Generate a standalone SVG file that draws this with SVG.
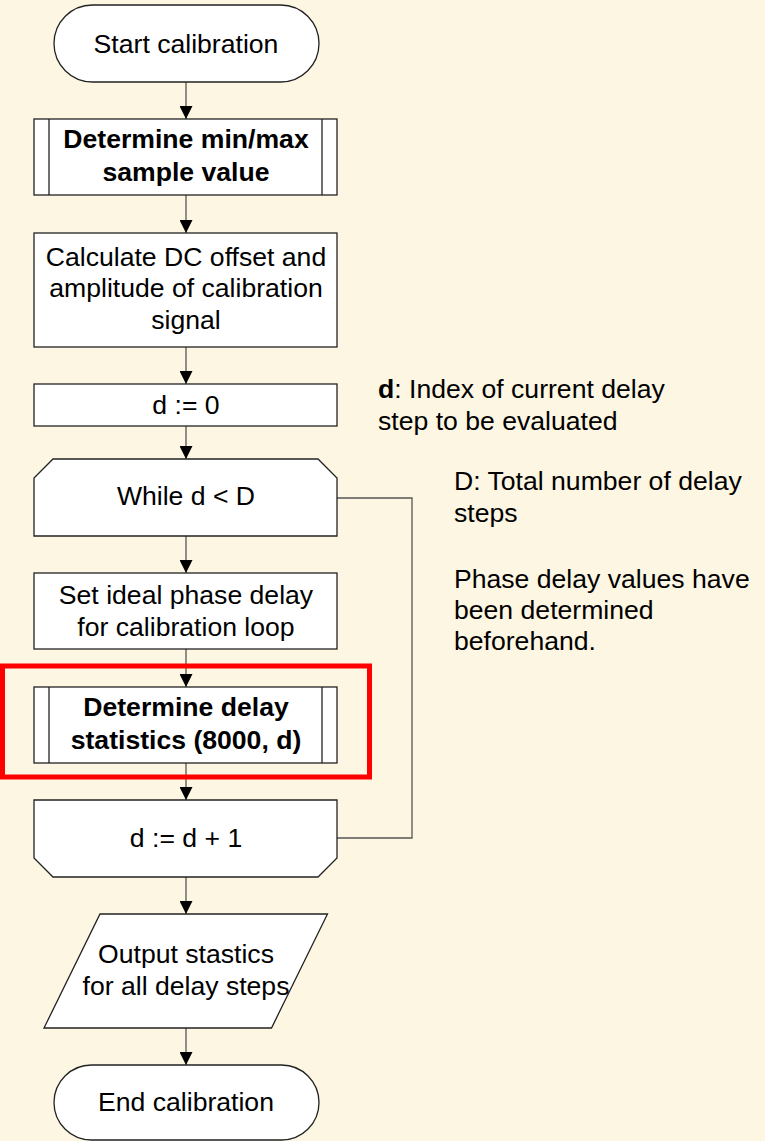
<svg xmlns="http://www.w3.org/2000/svg" width="765" height="1141" viewBox="0 0 765 1141">
<defs>
<marker id="arr" viewBox="0 0 13 13" refX="13" refY="6.5" markerWidth="13" markerHeight="13" markerUnits="userSpaceOnUse" orient="auto">
<path d="M0,0 L13,6.5 L0,13 Z" fill="#000"/>
</marker>
<style>
.bg{fill:#fdf6e3}
.shape{fill:#fff;stroke:#222;stroke-width:1.3}
.inner{stroke:#222;stroke-width:1.3;fill:none}
.t{font-family:"Liberation Sans",Arial,sans-serif;font-size:26.6px;fill:#000;text-anchor:middle}
.b{font-weight:bold}
.note{font-family:"Liberation Sans",Arial,sans-serif;font-size:26.6px;fill:#000}
.conn{stroke:#555;stroke-width:1.3;fill:none}
.hl{fill:none;stroke:#ff0000;stroke-width:5}
</style>
</defs>
<rect class="bg" x="0" y="0" width="765" height="1141"/>

<g id="connectors">
<line class="conn" x1="186" y1="82" x2="186" y2="119" marker-end="url(#arr)"/>
<line class="conn" x1="186" y1="195" x2="186" y2="233" marker-end="url(#arr)"/>
<line class="conn" x1="186" y1="347" x2="186" y2="384" marker-end="url(#arr)"/>
<line class="conn" x1="186" y1="426" x2="186" y2="459" marker-end="url(#arr)"/>
<line class="conn" x1="186" y1="536" x2="186" y2="573" marker-end="url(#arr)"/>
<line class="conn" x1="186" y1="649" x2="186" y2="687" marker-end="url(#arr)"/>
<line class="conn" x1="186" y1="763" x2="186" y2="800" marker-end="url(#arr)"/>
<line class="conn" x1="186" y1="877" x2="186" y2="914" marker-end="url(#arr)"/>
<line class="conn" x1="186" y1="1028" x2="186" y2="1065" marker-end="url(#arr)"/>
<polyline class="conn" points="337,498 412,498 412,838 337,838"/>
</g>

<g id="start">
<rect class="shape" x="54" y="5" width="265" height="77" rx="38.5" ry="38.5"/>
<text class="t" x="186" y="52.5">Start calibration</text>
</g>

<g id="minmax">
<rect class="shape" x="34" y="119" width="303" height="76"/>
<line class="inner" x1="49" y1="119" x2="49" y2="195"/>
<line class="inner" x1="322" y1="119" x2="322" y2="195"/>
<text class="t b" x="186" y="148">Determine min/max</text>
<text class="t b" x="186" y="181">sample value</text>
</g>

<g id="calc">
<rect class="shape" x="34" y="233" width="303" height="114"/>
<text class="t" x="186" y="265.5">Calculate DC offset and</text>
<text class="t" x="186" y="297">amplitude of calibration</text>
<text class="t" x="186" y="328.5">signal</text>
</g>

<g id="init">
<rect class="shape" x="34" y="384" width="303" height="42"/>
<text class="t" x="186" y="413.5">d := 0</text>
</g>

<g id="loopstart">
<path class="shape" d="M53,459 L318,459 L337,478 L337,536 L34,536 L34,478 Z"/>
<text class="t" x="186" y="505">While d &lt; D</text>
</g>

<g id="setphase">
<rect class="shape" x="34" y="573" width="303" height="76"/>
<text class="t" x="186" y="604">Set ideal phase delay</text>
<text class="t" x="186" y="635.5">for calibration loop</text>
</g>

<g id="delaystats">
<rect class="shape" x="34" y="687" width="303" height="76"/>
<line class="inner" x1="49" y1="687" x2="49" y2="763"/>
<line class="inner" x1="322" y1="687" x2="322" y2="763"/>
<text class="t b" x="186" y="715.5">Determine delay</text>
<text class="t b" x="186" y="749">statistics (8000, d)</text>
</g>

<g id="highlight">
<rect class="hl" x="2.5" y="666" width="367" height="111"/>
</g>

<g id="loopend">
<path class="shape" d="M34,800 L337,800 L337,858 L318,877 L53,877 L34,858 Z"/>
<text class="t" x="186" y="846.5">d := d + 1</text>
</g>

<g id="output">
<path class="shape" d="M100,914 L327.5,914 L271.5,1028 L44,1028 Z"/>
<text class="t" x="186" y="963">Output stastics</text>
<text class="t" x="186" y="995">for all delay steps</text>
</g>

<g id="end">
<rect class="shape" x="54" y="1065" width="265" height="75" rx="37.5" ry="37.5"/>
<text class="t" x="186" y="1111">End calibration</text>
</g>

<g id="notes">
<text class="note" x="378" y="398"><tspan font-weight="bold">d</tspan>: Index of current delay</text>
<text class="note" x="378" y="430">step to be evaluated</text>
<text class="note" x="454" y="490">D: Total number of delay</text>
<text class="note" x="454" y="521.5">steps</text>
<text class="note" x="454" y="588">Phase delay values have</text>
<text class="note" x="454" y="619">been determined</text>
<text class="note" x="454" y="650">beforehand.</text>
</g>
</svg>
